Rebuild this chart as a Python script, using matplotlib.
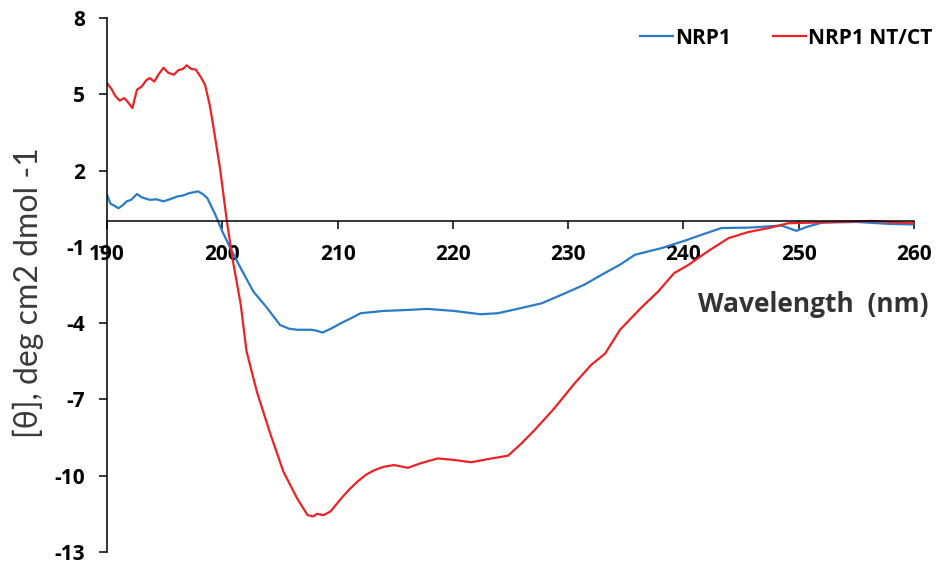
import numpy as np
import matplotlib
matplotlib.use("Agg")
import matplotlib.pyplot as plt

plt.rcParams["axes.unicode_minus"] = False

# values
nrp1_wl = [190.0, 190.3, 190.7, 191.0, 191.4, 191.7, 192.1, 192.6, 193.0, 193.7,
           194.3, 194.9, 195.5, 196.1, 196.6, 197.1, 197.9, 198.3, 198.7, 199.4,
           200.0, 200.7, 201.6, 202.7, 203.9, 205.0, 205.8, 206.5, 207.7, 208.2,
           208.7, 209.5, 210.3, 211.2, 212.0, 214.0, 216.1, 217.8, 220.1, 222.4,
           223.9, 225.6, 227.7, 229.4, 231.4, 232.9, 234.5, 235.8, 238.1, 240.1,
           241.6, 243.3, 245.9, 248.5, 249.8, 250.8, 252.0, 255.0, 258.0, 260.0]
nrp1_val = [1.05, 0.7, 0.6, 0.52, 0.65, 0.79, 0.85, 1.08, 0.95, 0.85,
            0.87, 0.79, 0.88, 0.98, 1.02, 1.11, 1.18, 1.08, 0.92, 0.26,
            -0.39, -1.05, -1.84, -2.76, -3.41, -4.07, -4.22, -4.26, -4.26, -4.3,
            -4.37, -4.2, -4.0, -3.8, -3.61, -3.52, -3.48, -3.44, -3.52, -3.65,
            -3.61, -3.44, -3.22, -2.89, -2.49, -2.1, -1.7, -1.31, -1.05, -0.76,
            -0.52, -0.26, -0.24, -0.16, -0.37, -0.2, -0.05, -0.02, -0.1, -0.12]

ntct_wl = [190.0, 190.4, 190.7, 191.1, 191.5, 191.8, 192.2, 192.6, 193.0, 193.4,
           193.7, 194.1, 194.5, 194.9, 195.3, 195.8, 196.2, 196.6, 196.9, 197.3,
           197.7, 198.1, 198.5, 198.9, 199.2, 199.8, 200.4, 200.9, 201.6, 202.1,
           203.0, 204.2, 205.3, 206.5, 207.4, 207.9, 208.2, 208.8, 209.4, 210.3,
           211.0, 211.7, 212.5, 213.2, 214.0, 214.9, 216.1, 217.2, 218.7, 220.1,
           221.6, 223.0, 224.8, 225.9, 227.1, 228.8, 230.5, 232.0, 233.2, 234.5,
           236.3, 237.8, 239.2, 240.4, 242.1, 243.9, 245.6, 247.4, 249.1, 251.0,
           253.0, 256.3, 258.0, 260.0]
ntct_val = [5.44, 5.2, 4.95, 4.75, 4.85, 4.7, 4.46, 5.18, 5.3, 5.55,
            5.64, 5.5, 5.8, 6.04, 5.85, 5.77, 5.95, 6.0, 6.14, 6.0,
            5.97, 5.7, 5.38, 4.6, 3.8, 2.1, 0.0, -1.5, -3.27, -5.1,
            -6.7, -8.4, -9.84, -10.9, -11.55, -11.6, -11.5, -11.55, -11.4, -10.9,
            -10.55, -10.24, -9.95, -9.78, -9.65, -9.58, -9.69, -9.51, -9.32, -9.38,
            -9.47, -9.35, -9.21, -8.75, -8.2, -7.35, -6.4, -5.64, -5.2, -4.26,
            -3.41, -2.76, -2.03, -1.72, -1.18, -0.66, -0.42, -0.26, -0.07, -0.05,
            -0.02, 0.02, -0.03, -0.07]

x_ticks = [190, 200, 210, 220, 230, 240, 250, 260]
y_ticks = [8, 5, 2, -1, -4, -7, -10, -13]

W, H = 943, 564
fig = plt.figure(figsize=(W / 100, H / 100), dpi=100)
ax = fig.add_axes([107 / W, 1 - 552 / H, (914 - 107) / W, (552 - 18) / H])

ax.plot(nrp1_wl, nrp1_val, color="#2a7bc4", linewidth=1.6, label="NRP1")
ax.plot(ntct_wl, ntct_val, color="#ec2227", linewidth=1.6, label="NRP1 NT/CT")

ax.set_xlim(190, 260)
ax.set_ylim(-13, 8)
ax.set_xticks(x_ticks)
ax.set_yticks(y_ticks)

ax.spines["top"].set_visible(False)
ax.spines["right"].set_visible(False)
ax.spines["bottom"].set_position(("data", 0))
ax.spines["left"].set_linewidth(1.1)
ax.spines["bottom"].set_linewidth(1.1)

tick_font = dict(family="Open Sans", weight="bold", size=15)
ax.tick_params(axis="both", direction="out", length=6, width=1.1, pad=10)
for lab in ax.get_xticklabels() + ax.get_yticklabels():
    lab.set_fontfamily("Open Sans")
    lab.set_fontweight("bold")
    lab.set_fontsize(15)

leg = ax.legend(loc="center left", bbox_to_anchor=(640 / W, 1 - 38 / H),
                bbox_transform=fig.transFigure, ncol=2, frameon=False,
                prop=tick_font, handlelength=1.6, handletextpad=0.1,
                columnspacing=2.0, borderpad=0, borderaxespad=0)

fig.text(28 / W, 1 - 293 / H, "[θ], deg cm2 dmol -1", rotation=90,
         ha="center", va="center", fontsize=23, color="#3a3a3a",
         family=["Lato", "DejaVu Sans"])
fig.text(928 / W, 1 - 305 / H, "Wavelength  (nm)", ha="right", va="center",
         fontsize=19, color="#333333", family="Open Sans", weight="bold")

fig.savefig("out.png", dpi=100)
